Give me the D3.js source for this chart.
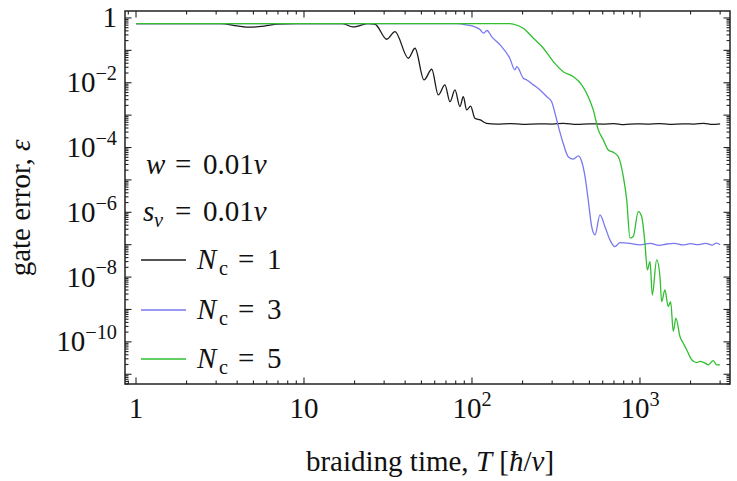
<!DOCTYPE html>
<html><head><meta charset="utf-8">
<script src="https://cdn.jsdelivr.net/npm/d3@7"></script>
<style>body{margin:0;background:#fff}svg{display:block}</style>
</head><body><svg id="c" width="737" height="481"></svg>
<script>
// ---- data ----
const xDomain = [0.86, 3435];
const yDomain = [5e-12, 1.64];
const xTickVals = [1, 10, 100, 1000];
const xTickBase = ["1", "10", "10", "10"];
const xTickExp  = ["", "", "2", "3"];
const yTickVals = [1, 1e-2, 1e-4, 1e-6, 1e-8, 1e-10];
const yTickBase = ["1", "10", "10", "10", "10", "10"];
const yTickExp  = ["", "−2", "−4", "−6", "−8", "−10"];
const ncValues = [1, 3, 5];
const seriesColors = ["#1a1a1a", "#7878f0", "#2fbf2f"];
const paramValue = "0.01";

const seriesN1 = [[1,0.67],[3.2,0.67],[4.0,0.57],[4.8,0.52],[5.8,0.56],[7.0,0.65],[9,0.67],[17,0.67],[19.5,0.53],[21.5,0.58],[24,0.67],[26.5,0.64],[31.1,0.22],[34.8,0.38],[41.8,0.057],[45.8,0.116],[51.8,0.0122],[57.6,0.0261],[63,0.0042],[69,0.0086],[74,0.0026],[79.2,0.0060],[84.8,0.00183],[88.8,0.0037],[93,0.00145],[98.2,0.0019],[104,8.0e-4],[112,7.1e-4],[122,5.6e-4],[140,5.3e-4],[170,5.5e-4],[200,5.2e-4],[250,5.4e-4],[300,5.3e-4],[350,5.6e-4],[420,5.2e-4],[500,5.4e-4],[600,5.3e-4],[700,5.5e-4],[800,5.1e-4],[950,5.4e-4],[1100,5.3e-4],[1300,5.5e-4],[1500,5.2e-4],[1800,5.4e-4],[2100,5.3e-4],[2400,5.6e-4],[2700,5.2e-4],[3000,5.4e-4]];

const seriesN3 = [[1,0.67],[81,0.67],[93,0.61],[104,0.53],[112,0.43],[117,0.34],[123,0.41],[131,0.265],[147,0.147],[168,0.057],[180,0.0248],[185,0.0314],[202,0.0138],[212,0.0122],[232,0.0086],[254,0.0060],[279,0.0037],[298,0.0026],[312,0.00115],[327,4.4e-4],[349,1.36e-4],[374,5.2e-5],[401,4.4e-5],[430,5.5e-5],[450,3.7e-5],[471,1.26e-5],[492,2.4e-6],[516,3.6e-7],[540,2.0e-7],[578,8.3e-7],[619,3.6e-7],[663,1.4e-7],[710,8.7e-8],[760,1.16e-7],[872,1.1e-7],[1000,9.9e-8],[1150,1.1e-7],[1300,0.95e-7],[1450,1.05e-7],[1600,1.1e-7],[1800,0.98e-7],[2000,1.08e-7],[2200,1.0e-7],[2450,1.1e-7],[2700,0.97e-7],[2850,1.12e-7],[3000,1.0e-7]];

const seriesN5 = [[1,0.67],[168,0.67],[176,0.65],[202,0.48],[232,0.236],[266,0.116],[305,0.0448],[349,0.022],[401,0.0154],[450,0.0086],[492,0.0037],[527,0.00145],[565,3.5e-4],[605,1.72e-4],[648,8.4e-5],[694,7.1e-5],[743,5.2e-5],[796,1.26e-5],[834,2.4e-6],[872,1.6e-7],[912,1.78e-7],[977,1.05e-6],[1023,7.4e-7],[1071,1.1e-7],[1106,1.67e-8],[1148,3.0e-8],[1184,2.8e-9],[1257,3.4e-8],[1315,1.04e-8],[1346,1.75e-9],[1408,4.0e-9],[1473,1.23e-9],[1523,1.75e-9],[1578,2.1e-10],[1637,5.4e-10],[1730,1.46e-10],[1811,9.1e-11],[1897,5.7e-11],[2032,2.8e-11],[2177,2.3e-11],[2276,2.5e-11],[2438,2.2e-11],[2553,1.95e-11],[2731,2.65e-11],[2860,1.95e-11],[2993,1.95e-11]];

const allSeries = [seriesN1, seriesN3, seriesN5];

// ---- layout ----
const L = 125, R = 730, T = 11, B = 384;
const FONT = "'Liberation Serif','Times New Roman',serif";
const svg = d3.select("#c");
const x = d3.scaleLog().domain(xDomain).range([L, R]);
const y = d3.scaleLog().domain(yDomain).range([B, T]);

function logTicks(dom) {
  const out = [];
  const lo = Math.floor(Math.log10(dom[0])), hi = Math.ceil(Math.log10(dom[1]));
  for (let d = lo; d <= hi; d++) for (let k = 1; k <= 9; k++) {
    const v = k * Math.pow(10, d);
    if (v >= dom[0] * 0.9999 && v <= dom[1] * 1.0001) out.push({v, major: k === 1});
  }
  return out;
}

// curves
svg.append("clipPath").attr("id", "pc").append("rect")
  .attr("x", L).attr("y", T).attr("width", R - L).attr("height", B - T);
const line = d3.line().x(d => x(d[0])).y(d => y(d[1])).curve(d3.curveMonotoneX);
allSeries.forEach((s, i) => {
  svg.append("path").attr("d", line(s)).attr("fill", "none")
    .attr("stroke", seriesColors[i]).attr("stroke-width", 1.3)
    .attr("clip-path", "url(#pc)");
});

// frame + ticks
const fr = svg.append("g").attr("stroke", "#222").attr("stroke-width", 1.1);
logTicks(xDomain).forEach(t => {
  const len = t.major ? 6.5 : 3.5, px = x(t.v);
  fr.append("line").attr("x1", px).attr("x2", px).attr("y1", B).attr("y2", B - len);
  fr.append("line").attr("x1", px).attr("x2", px).attr("y1", T).attr("y2", T + len);
});
logTicks(yDomain).forEach(t => {
  const len = t.major ? 6.5 : 3.5, py = y(t.v);
  fr.append("line").attr("y1", py).attr("y2", py).attr("x1", L).attr("x2", L + len);
  fr.append("line").attr("y1", py).attr("y2", py).attr("x1", R).attr("x2", R - len);
});
svg.append("rect").attr("x", L).attr("y", T).attr("width", R - L).attr("height", B - T)
  .attr("fill", "none").attr("stroke", "#222").attr("stroke-width", 1.5);

// tick labels
const TS = 29;
xTickVals.forEach((v, i) => {
  const t = svg.append("text").attr("x", x(v)).attr("y", 418).attr("text-anchor", "middle")
    .attr("font-family", FONT).attr("font-size", TS).attr("fill", "#111");
  t.append("tspan").text(xTickBase[i]);
  if (xTickExp[i]) t.append("tspan").attr("font-size", TS * 0.7).attr("dy", -TS * 0.42).text(xTickExp[i]);
});
yTickVals.forEach((v, i) => {
  const t = svg.append("text").attr("x", 117).attr("y", y(v) + 9.5).attr("text-anchor", "end")
    .attr("font-family", FONT).attr("font-size", TS).attr("fill", "#111");
  t.append("tspan").text(yTickBase[i]);
  if (yTickExp[i]) t.append("tspan").attr("font-size", TS * 0.7).attr("dy", -TS * 0.42).text(yTickExp[i]);
});

// axis titles
const xt = svg.append("text").attr("x", 430).attr("y", 471).attr("text-anchor", "middle")
  .attr("font-family", FONT).attr("font-size", 29).attr("fill", "#111");
xt.append("tspan").text("braiding time, ");
xt.append("tspan").attr("font-style", "italic").text("T");
xt.append("tspan").text(" [");
xt.append("tspan").attr("font-style", "italic").text("ħ");
xt.append("tspan").text("/");
xt.append("tspan").attr("font-style", "italic").text("v");
xt.append("tspan").text("]");

const yt = svg.append("text").attr("transform", "translate(30,208) rotate(-90)")
  .attr("text-anchor", "middle").attr("font-family", FONT).attr("font-size", 29).attr("fill", "#111");
yt.append("tspan").text("gate error, ");
yt.append("tspan").attr("font-style", "italic").text("ε");

// legend
const LS = 29;
function txt(xp, yp, s, opts = {}) {
  return svg.append("text").attr("x", xp).attr("y", yp).attr("font-family", FONT)
    .attr("font-size", opts.size || LS).attr("font-style", opts.italic ? "italic" : "normal")
    .attr("fill", "#111").text(s);
}
function valueText(yp) {
  const t = svg.append("text").attr("x", 203).attr("y", yp).attr("font-family", FONT)
    .attr("font-size", LS).attr("fill", "#111");
  t.append("tspan").text(paramValue);
  t.append("tspan").attr("font-style", "italic").text("v");
}
// w = 0.01v
txt(146, 174, "w", {italic: true});
txt(175, 174, "=");
valueText(174);
// s_v = 0.01v
txt(143, 221, "s", {italic: true});
txt(154, 227, "v", {italic: true, size: LS * 0.7});
txt(175, 221, "=");
valueText(221);
// series entries
const legY = [260, 310, 359];
ncValues.forEach((n, i) => {
  svg.append("line").attr("x1", 141).attr("x2", 186).attr("y1", legY[i]).attr("y2", legY[i])
    .attr("stroke", seriesColors[i]).attr("stroke-width", 1.3);
  const by = legY[i] + 9;
  txt(197, by, "N", {italic: true});
  txt(219, by + 6, "c", {size: LS * 0.7});
  txt(238, by, "=");
  txt(267, by, String(n));
});
</script></body></html>
